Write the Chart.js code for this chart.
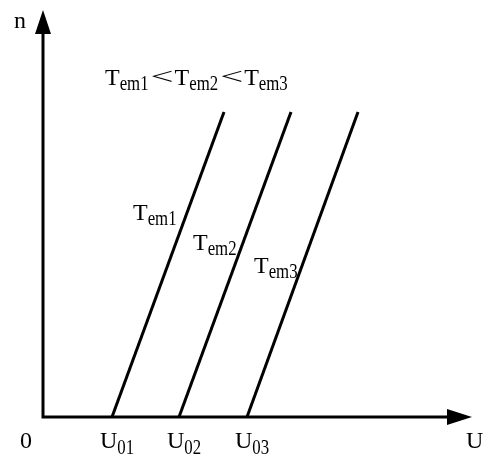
<!DOCTYPE html>
<html>
<head>
<meta charset="utf-8">
<script src="https://cdn.jsdelivr.net/npm/chart.js@4.4.1/dist/chart.umd.min.js"></script>
<style>
html,body{margin:0;padding:0;background:#fff;}
#wrap{width:498px;height:475px;}
</style>
</head>
<body>
<div id="wrap"><canvas id="c" width="498" height="475"></canvas></div>
<script>
// Voltage U (arbitrary units) and speed n (arbitrary units)
const seriesNames = ['Tem1', 'Tem2', 'Tem3'];
const tem1U = [69, 181];
const tem1N = [0, 305];
const tem2U = [136, 248];
const tem2N = [0, 305];
const tem3U = [204, 315];
const tem3N = [0, 305];
const startVoltages = [69, 136, 204];          // U01, U02, U03
const startLabels = ['01', '02', '03'];
const axisMaxU = 429;
const axisMaxN = 405;

function pts(us, ns) { return us.map((u, i) => ({x: u, y: ns[i]})); }

const mainFont = '24px "Liberation Serif", "DejaVu Serif", serif';
const subFont = '16px "Liberation Serif", "DejaVu Serif", serif';

function drawSub(ctx, x, y, main, sub, subDrop) {
  ctx.font = mainFont;
  ctx.fillText(main, x, y);
  const w = ctx.measureText(main).width;
  ctx.font = subFont;
  ctx.save();
  ctx.translate(x + w, y + subDrop);
  ctx.scale(1.05, 1.3);
  ctx.fillText(sub, 0, 0);
  ctx.restore();
  return x + w + ctx.measureText(sub).width * 1.05;
}

const decor = {
  id: 'decor',
  afterDatasetsDraw(chart) {
    const ctx = chart.ctx;
    const xs = chart.scales.x, ys = chart.scales.y;
    const x0 = xs.getPixelForValue(0), y0 = ys.getPixelForValue(0);
    const xEnd = xs.getPixelForValue(axisMaxU), yEnd = ys.getPixelForValue(axisMaxN);
    ctx.save();
    ctx.strokeStyle = '#000';
    ctx.fillStyle = '#000';
    ctx.lineWidth = 3;
    ctx.lineCap = 'butt';
    // axes
    ctx.beginPath();
    ctx.moveTo(x0, y0 + 1.5);
    ctx.lineTo(x0, yEnd + 20);
    ctx.moveTo(x0 - 1.5, y0);
    ctx.lineTo(xEnd - 20, y0);
    ctx.stroke();
    // arrowheads
    ctx.beginPath();
    ctx.moveTo(x0, yEnd - 2);
    ctx.lineTo(x0 - 8, yEnd + 22);
    ctx.lineTo(x0 + 8, yEnd + 22);
    ctx.closePath();
    ctx.fill();
    ctx.beginPath();
    ctx.moveTo(xEnd, y0);
    ctx.lineTo(xEnd - 25, y0 - 8);
    ctx.lineTo(xEnd - 25, y0 + 8);
    ctx.closePath();
    ctx.fill();

    ctx.textBaseline = 'alphabetic';
    ctx.textAlign = 'left';
    ctx.font = mainFont;
    // axis letters
    ctx.fillText('n', 14, ys.getPixelForValue(axisMaxN) + 16);
    ctx.fillText('0', 20, y0 + 31);
    ctx.fillText('U', 466, y0 + 31);
    // start voltages
    startVoltages.forEach((u, i) => {
      drawSub(ctx, xs.getPixelForValue(u) - 12, y0 + 31, 'U', startLabels[i], 6);
    });
    // line labels
    drawSub(ctx, 133, 220, 'T', 'em1', 5);
    drawSub(ctx, 193, 250, 'T', 'em2', 5);
    drawSub(ctx, 254, 273, 'T', 'em3', 5);
    // title
    let x = drawSub(ctx, 105, 85, 'T', 'em1', 5);
    ctx.font = '24px "Liberation Serif", serif';
    ctx.save(); ctx.translate(x + 2, 85); ctx.scale(1.7, 1); ctx.fillText('<', 0, -1); ctx.restore();
    x = drawSub(ctx, x + 26, 85, 'T', 'em2', 5);
    ctx.font = '24px "Liberation Serif", serif';
    ctx.save(); ctx.translate(x + 2, 85); ctx.scale(1.7, 1); ctx.fillText('<', 0, -1); ctx.restore();
    drawSub(ctx, x + 26, 85, 'T', 'em3', 5);
    ctx.restore();
  }
};

const ds = (label, d) => ({
  label, data: d, showLine: true, borderColor: '#000', borderWidth: 3,
  pointRadius: 0, fill: false, tension: 0, borderCapStyle: 'butt'
});

new Chart(document.getElementById('c'), {
  type: 'scatter',
  data: {
    datasets: [
      ds(seriesNames[0], pts(tem1U, tem1N)),
      ds(seriesNames[1], pts(tem2U, tem2N)),
      ds(seriesNames[2], pts(tem3U, tem3N))
    ]
  },
  options: {
    responsive: false,
    animation: false,
    layout: { padding: { left: 43, right: 26, top: 12, bottom: 58 } },
    plugins: { legend: { display: false }, tooltip: { enabled: false } },
    scales: {
      x: { type: 'linear', min: 0, max: axisMaxU, display: false },
      y: { type: 'linear', min: 0, max: axisMaxN, display: false }
    }
  },
  plugins: [decor]
});
</script>
</body>
</html>
